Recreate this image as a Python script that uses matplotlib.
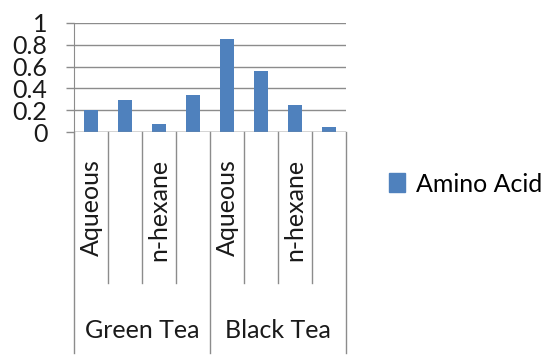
import matplotlib
matplotlib.use("Agg")
import matplotlib.pyplot as plt
from matplotlib.lines import Line2D
from matplotlib.patches import Patch

plt.rcParams['font.family'] = ['Lato', 'DejaVu Sans']

groups = ['Green Tea', 'Black Tea']
solvents = ['Aqueous', '', 'n-hexane', '']
amino_acid = [0.20, 0.29, 0.07, 0.34, 0.85, 0.56, 0.25, 0.05]
yticks = [0, 0.2, 0.4, 0.6, 0.8, 1]

bar_color = '#4F81BD'
line_color = '#8C8C8C'
text_color = '#1A1A1A'

W, H = 548, 356
fig = plt.figure(figsize=(W / 100, H / 100), dpi=100)
ax = fig.add_axes([74 / W, 1 - 132 / H, (346 - 74) / W, (132 - 23) / H])

x = list(range(len(amino_acid)))
ax.bar(x, amino_acid, width=0.4, color=bar_color, zorder=3)

ax.set_xlim(-0.5, len(amino_acid) - 0.5)
ax.set_ylim(0, 1)
ax.set_yticks(yticks)
ax.set_yticklabels(['0', '0.2', '0.4', '0.6', '0.8', '1'])
ax.tick_params(axis='y', length=6, color=line_color, width=1, pad=13,
               labelsize=18, labelcolor=text_color)
ax.set_xticks([])
ax.grid(axis='y', color=line_color, lw=1, zorder=0)
for s in ['top', 'right', 'bottom']:
    ax.spines[s].set_visible(False)
ax.spines['left'].set_color(line_color)
ax.axhline(0, color=line_color, lw=1, zorder=4)

trans = ax.get_xaxis_transform()
n_sub = len(solvents)
# category separators under the axis
for k in range(len(amino_acid) + 1):
    outer = (k % n_sub == 0)
    ybot = -2.03 if outer else -1.385
    ax.add_line(Line2D([k - 0.5, k - 0.5], [0, ybot], transform=trans,
                       color=line_color, lw=1, clip_on=False))

for gi, g in enumerate(groups):
    for si, s in enumerate(solvents):
        if s:
            ax.text(gi * n_sub + si, -0.25, s, transform=trans, rotation=90,
                    ha='center', va='top', fontsize=18, color=text_color)
    ax.text(gi * n_sub + (n_sub - 1) / 2, -1.82, g, transform=trans,
            ha='center', va='center', fontsize=18, color=text_color)

fig.legend(handles=[Patch(color=bar_color, label='Amino Acid')],
           loc='center left', bbox_to_anchor=(389 / W, 1 - 184 / H),
           frameon=False, fontsize=18, handlelength=0.65, handleheight=0.8,
           handletextpad=0.45, borderaxespad=0, borderpad=0)

fig.savefig('out.png', dpi=100)
